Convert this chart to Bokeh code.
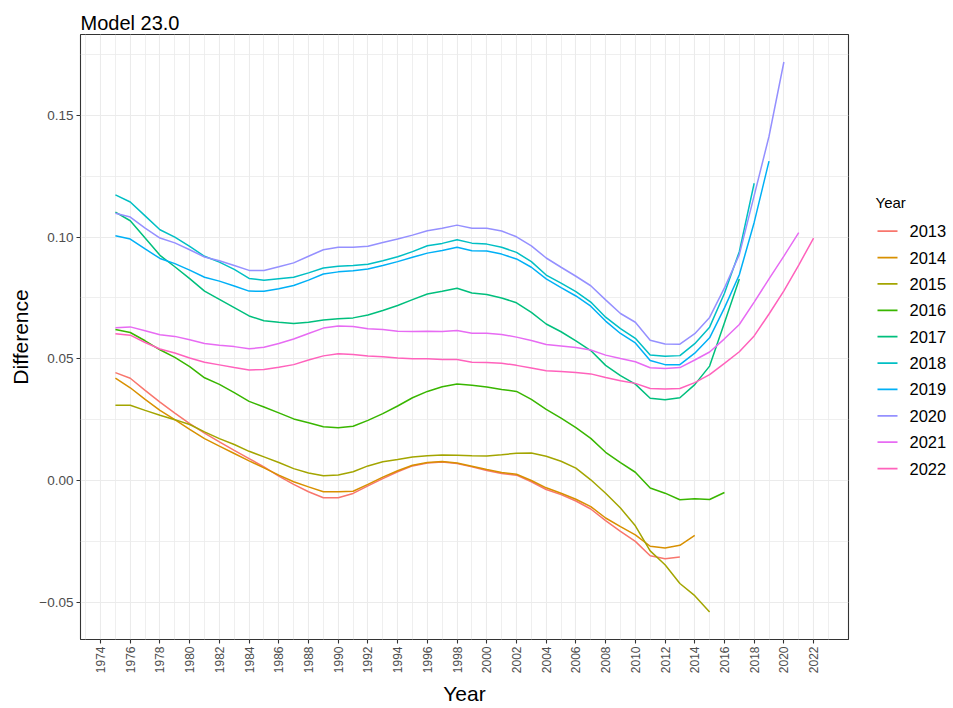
from bokeh.plotting import figure
from bokeh.layouts import row, column
from bokeh.models import Range1d, FixedTicker
from bokeh.core.properties import value
from bokeh.embed import file_html
from bokeh.resources import INLINE

# Estimation years start in 1975; each series runs up to its own year.
start_year = 1975

d2013 = [0.0443, 0.0420, 0.0370, 0.0322, 0.0277, 0.0234, 0.0195, 0.0159, 0.0124, 0.0090,
         0.0056, 0.0018, -0.0016, -0.0046, -0.0071, -0.0071, -0.0053, -0.0022, 0.0008, 0.0036,
         0.0060, 0.0072, 0.0076, 0.0070, 0.0056, 0.0041, 0.0029, 0.0022, -0.0005, -0.0037,
         -0.0058, -0.0084, -0.0117, -0.0165, -0.0209, -0.0250, -0.0309, -0.0321, -0.0314]
d2014 = [0.0421, 0.0381, 0.0333, 0.0288, 0.0250, 0.0210, 0.0172, 0.0141, 0.0111, 0.0081,
         0.0052, 0.0022, -0.0005, -0.0026, -0.0046, -0.0046, -0.0044, -0.0016, 0.0014, 0.0040,
         0.0063, 0.0074, 0.0078, 0.0072, 0.0059, 0.0045, 0.0033, 0.0026, 0.0000, -0.0030,
         -0.0052, -0.0077, -0.0107, -0.0154, -0.0189, -0.0223, -0.0270, -0.0277, -0.0266, -0.0225]
d2015 = [0.0309, 0.0309, 0.0288, 0.0268, 0.0250, 0.0230, 0.0200, 0.0172, 0.0148, 0.0120,
         0.0097, 0.0074, 0.0049, 0.0031, 0.0020, 0.0023, 0.0036, 0.0060, 0.0077, 0.0086,
         0.0097, 0.0102, 0.0105, 0.0104, 0.0102, 0.0101, 0.0106, 0.0112, 0.0113, 0.0100,
         0.0079, 0.0051, 0.0003, -0.0052, -0.0113, -0.0186, -0.0289, -0.0346, -0.0423, -0.0473,
         -0.0540]
d2016 = [0.0620, 0.0608, 0.0574, 0.0537, 0.0506, 0.0468, 0.0422, 0.0395, 0.0361, 0.0325,
         0.0302, 0.0278, 0.0253, 0.0237, 0.0221, 0.0217, 0.0223, 0.0247, 0.0275, 0.0306,
         0.0340, 0.0366, 0.0385, 0.0396, 0.0391, 0.0384, 0.0374, 0.0366, 0.0333, 0.0292,
         0.0256, 0.0217, 0.0173, 0.0116, 0.0074, 0.0034, -0.0031, -0.0052, -0.0079, -0.0075,
         -0.0078, -0.0049]
d2017 = [0.1102, 0.1067, 0.0996, 0.0925, 0.0878, 0.0829, 0.0778, 0.0744, 0.0710, 0.0676,
         0.0656, 0.0650, 0.0645, 0.0650, 0.0659, 0.0664, 0.0668, 0.0680, 0.0698, 0.0719,
         0.0743, 0.0766, 0.0777, 0.0790, 0.0770, 0.0764, 0.0750, 0.0730, 0.0691, 0.0643,
         0.0611, 0.0574, 0.0534, 0.0473, 0.0431, 0.0396, 0.0338, 0.0332, 0.0340, 0.0394,
         0.0470, 0.0648, 0.0828]
d2018 = [0.1173, 0.1144, 0.1087, 0.1030, 0.1000, 0.0962, 0.0921, 0.0897, 0.0867, 0.0830,
         0.0823, 0.0829, 0.0835, 0.0853, 0.0873, 0.0880, 0.0883, 0.0888, 0.0903, 0.0919,
         0.0940, 0.0964, 0.0974, 0.0989, 0.0975, 0.0971, 0.0958, 0.0937, 0.0899, 0.0844,
         0.0811, 0.0776, 0.0733, 0.0671, 0.0624, 0.0584, 0.0516, 0.0510, 0.0513, 0.0562,
         0.0630, 0.0769, 0.0940, 0.1221]
d2019 = [0.1005, 0.0992, 0.0951, 0.0912, 0.0891, 0.0864, 0.0835, 0.0819, 0.0799, 0.0778,
         0.0777, 0.0788, 0.0801, 0.0823, 0.0848, 0.0857, 0.0862, 0.0869, 0.0883, 0.0899,
         0.0917, 0.0934, 0.0945, 0.0958, 0.0944, 0.0943, 0.0930, 0.0910, 0.0876, 0.0828,
         0.0792, 0.0758, 0.0716, 0.0655, 0.0604, 0.0565, 0.0493, 0.0476, 0.0476, 0.0523,
         0.0586, 0.0709, 0.0845, 0.1060, 0.1312]
d2020 = [0.1098, 0.1082, 0.1037, 0.0996, 0.0976, 0.0948, 0.0918, 0.0903, 0.0883, 0.0863,
         0.0863, 0.0878, 0.0894, 0.0921, 0.0948, 0.0958, 0.0958, 0.0962, 0.0978, 0.0992,
         0.1008, 0.1026, 0.1036, 0.1049, 0.1036, 0.1036, 0.1025, 0.1001, 0.0964, 0.0914,
         0.0876, 0.0839, 0.0800, 0.0742, 0.0686, 0.0650, 0.0576, 0.0561, 0.0560, 0.0603,
         0.0670, 0.0791, 0.0928, 0.1170, 0.1414, 0.1719]
d2021 = [0.0627, 0.0631, 0.0615, 0.0599, 0.0592, 0.0578, 0.0563, 0.0556, 0.0550, 0.0541,
         0.0547, 0.0563, 0.0581, 0.0604, 0.0626, 0.0635, 0.0633, 0.0623, 0.0620, 0.0613,
         0.0612, 0.0613, 0.0612, 0.0616, 0.0605, 0.0605, 0.0600, 0.0589, 0.0575, 0.0559,
         0.0553, 0.0546, 0.0536, 0.0515, 0.0501, 0.0488, 0.0463, 0.0460, 0.0464, 0.0495,
         0.0528, 0.0582, 0.0641, 0.0733, 0.0828, 0.0922, 0.1018]
d2022 = [0.0603, 0.0597, 0.0567, 0.0540, 0.0524, 0.0503, 0.0486, 0.0475, 0.0464, 0.0454,
         0.0456, 0.0465, 0.0476, 0.0495, 0.0512, 0.0521, 0.0518, 0.0511, 0.0508, 0.0503,
         0.0500, 0.0500, 0.0497, 0.0497, 0.0486, 0.0485, 0.0482, 0.0473, 0.0462, 0.0451,
         0.0448, 0.0444, 0.0438, 0.0423, 0.0410, 0.0399, 0.0378, 0.0376, 0.0378, 0.0402,
         0.0435, 0.0481, 0.0529, 0.0594, 0.0684, 0.0779, 0.0885, 0.0996]

series_names = ["2013", "2014", "2015", "2016", "2017", "2018", "2019", "2020", "2021", "2022"]
series_values = [d2013, d2014, d2015, d2016, d2017, d2018, d2019, d2020, d2021, d2022]
series_colors = ["#F8766D", "#D89000", "#A3A500", "#39B600", "#00BF7D",
                 "#00BFC4", "#00B0F6", "#9590FF", "#E76BF3", "#FF62BC"]

x_ticks = list(range(1974, 2023, 2))
x_minor = list(range(1973, 2025, 2))
y_ticks = [-0.05, 0.0, 0.05, 0.10, 0.15]
y_tick_labels = ["\u22120.05", "0.00", "0.05", "0.10", "0.15"]
y_minor = [-0.075, -0.025, 0.025, 0.075, 0.125, 0.175]

FONT = "Liberation Sans"
GRID = "#EBEBEB"
DARK = "#333333"

# Page geometry (pixels): a title strip on top, then the panel and a legend strip
W, H = 953, 708
TITLE_H = 33
TOP_GAP = 1                  # panel's top edge lands at y = 34
LEFT, BOTTOM = 80, 66
MAIN_W = 850                 # panel spans x = 80 .. 848
KEY_W = W - MAIN_W
BODY_H = H - TITLE_H
PANEL_TOP = TITLE_H + TOP_GAP
PANEL_BOTTOM = H - BOTTOM


def blank(width, height, xr, yr, **borders):
    f = figure(width=width, height=height, output_backend="svg", toolbar_location=None,
               x_range=xr, y_range=yr, x_axis_location=None, y_axis_location=None,
               **borders)
    f.grid.visible = False
    f.outline_line_color = None
    f.background_fill_color = "white"
    f.border_fill_color = "white"
    return f


# --- title strip -----------------------------------------------------------
head = blank(W, TITLE_H, Range1d(0, W), Range1d(TITLE_H, 0), min_border=0)
head.text(x=[LEFT], y=[22], text=["Model 23.0"], text_font=value(FONT),
          text_font_size=value("20px"), text_color="black",
          text_baseline="alphabetic", text_align="left")

# --- main panel ------------------------------------------------------------
# ggplot-style 5% padding around the data extent
all_x = [start_year + i for v in series_values for i in range(len(v))]
all_y = [y for v in series_values for y in v]
xpad = 0.05 * (max(all_x) - min(all_x))
ypad = 0.05 * (max(all_y) - min(all_y))

p = figure(width=MAIN_W, height=BODY_H, output_backend="svg", toolbar_location=None,
           x_range=Range1d(min(all_x) - xpad, max(all_x) + xpad),
           y_range=Range1d(min(all_y) - ypad, max(all_y) + ypad),
           min_border_left=LEFT, min_border_right=MAIN_W - LEFT - 768,
           min_border_top=TOP_GAP, min_border_bottom=BOTTOM)

p.background_fill_color = "white"
p.border_fill_color = "white"
p.outline_line_color = DARK
p.outline_line_width = 1.1

p.xaxis.ticker = FixedTicker(ticks=x_ticks, minor_ticks=x_minor)
p.yaxis.ticker = FixedTicker(ticks=y_ticks, minor_ticks=y_minor)
p.yaxis.major_label_overrides = {t: s for t, s in zip(y_ticks, y_tick_labels)}
p.xaxis.major_label_orientation = 3.14159265 / 2

for ax in (p.xaxis, p.yaxis):
    ax.axis_line_color = None
    ax.major_tick_line_color = DARK
    ax.major_tick_line_width = 1.1
    ax.major_tick_in = 0
    ax.major_tick_out = 4
    ax.minor_tick_line_color = None
    ax.major_label_text_font = FONT
    ax.major_label_text_color = "#4D4D4D"
    ax.major_label_standoff = 3
    ax.axis_label_text_font = FONT
    ax.axis_label_text_font_size = "21px"
    ax.axis_label_text_font_style = "normal"
    ax.axis_label_text_color = "black"

p.xaxis.major_label_text_font_size = "12px"
p.yaxis.major_label_text_font_size = "13.5px"
p.xaxis.axis_label_standoff = 6
p.yaxis.axis_label_standoff = 4
p.xaxis.axis_label = "Year"
p.yaxis.axis_label = "Difference"

for g in (p.xgrid, p.ygrid):
    g.grid_line_color = GRID
    g.grid_line_width = 1.1
    g.minor_grid_line_color = GRID
    g.minor_grid_line_width = 0.8

for name, vals, col in zip(series_names, series_values, series_colors):
    xs = [start_year + i for i in range(len(vals))]
    p.line(xs, vals, line_color=col, line_width=1.5)

# --- legend strip ----------------------------------------------------------
# Its drawing area shares the panel's vertical extent; ranges are page pixels.
key = blank(KEY_W, BODY_H, Range1d(MAIN_W, W), Range1d(PANEL_BOTTOM, PANEL_TOP),
            min_border_left=0, min_border_right=0,
            min_border_top=TOP_GAP, min_border_bottom=BOTTOM)
KEY_X0, KEY_X1, LABEL_X = 877, 897, 909
FIRST_Y, STEP = 231.7, 26.5
rows_y = [FIRST_Y + STEP * i for i in range(len(series_names))]

key.text(x=[875], y=[FIRST_Y - 29], text=["Year"], text_font=value(FONT),
         text_font_size=value("15px"), text_color="black",
         text_baseline="middle", text_align="left")
key.segment(x0=[KEY_X0] * len(rows_y), y0=rows_y, x1=[KEY_X1] * len(rows_y), y1=rows_y,
            line_color=series_colors, line_width=1.8)
key.text(x=[LABEL_X] * len(rows_y), y=rows_y, text=series_names, text_font=value(FONT),
         text_font_size=value("16.5px"), text_color="black",
         text_baseline="middle", text_align="left")

layout = column(head, row(p, key, spacing=0), spacing=0)
open("out.html", "w").write(file_html(layout, INLINE))
